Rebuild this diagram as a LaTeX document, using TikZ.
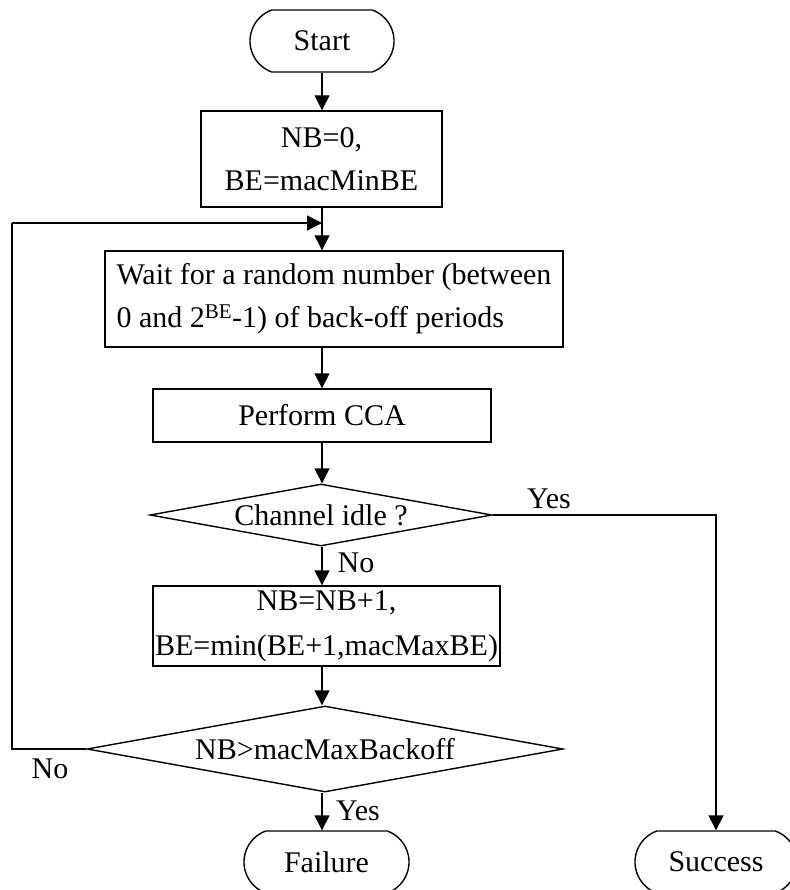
\documentclass[tikz,border=0pt]{standalone}
\usepackage{fontspec}
\setmainfont{Liberation Serif}
\usetikzlibrary{arrows.meta,shapes.geometric,shapes.misc}
\begin{document}
\begin{tikzpicture}[x=1pt,y=-1pt,
  every node/.style={font=\fontsize{30}{43}\selectfont, inner sep=0pt},
  line/.style={line width=1.4pt},
  flow/.style={line, -{Triangle[length=15pt,width=15pt]}},
  proc/.style={draw, line width=1.4pt, rectangle, align=center},
  term/.style={draw, line width=1.4pt, rounded rectangle,
    rounded rectangle arc length=140, minimum height=62pt},
  test/.style={draw, line width=1.4pt, diamond, aspect=5.5},
  lbl/.style={inner sep=0pt}
]
\useasboundingbox (0,0) rectangle (789,890);

% main vertical spine of the flow
\coordinate (spine) at (322,0);

% blocks
\node[term, minimum width=144pt] (start) at (322,41) {Start};
\node[proc, minimum width=241pt, minimum height=96pt] (init) at (321.5,159)
  {NB=0,\\ BE=macMinBE};
\node[proc, minimum width=458pt, minimum height=96pt, align=left] (wait) at (334,299)
  {Wait for a random number (between\\ 0 and 2\textsuperscript{BE}-1) of back-off periods};
\node[proc, minimum width=338pt, minimum height=53pt] (cca) at (322,415.5) {Perform CCA};
\node[test, minimum width=342pt, minimum height=62pt] (idle) at (321,515) {Channel idle ?};
\node[proc, minimum width=347pt, minimum height=80pt,
  font=\fontsize{30}{45}\selectfont] (inc) at (326.5,626)
  {NB=NB+1,\\ BE=min(BE+1,macMaxBE)};
\node[test, minimum width=476pt, minimum height=86pt] (limit) at (325,749) {NB>macMaxBackoff};
\node[term, minimum width=165pt] (fail) at (326.5,862) {Failure};
\node[term, minimum width=162pt] (succ) at (716,862) {Success};

% retry loop corners
\coordinate (loopB) at (12,749);
\coordinate (loopT) at (12,223);
\coordinate (merge) at (spine |- loopT);

% connectors
\draw[flow] (start.south -| spine) -- (init.north -| spine);
\draw[flow] (init.south -| spine) -- (wait.north -| spine);
\draw[flow] (wait.south -| spine) -- (cca.north -| spine);
\draw[flow] (cca.south -| spine) -- (idle.north -| spine);
\draw[flow] (idle.south -| spine) -- (inc.north -| spine);
\draw[flow] (inc.south -| spine) -- (limit.north -| spine);
\draw[flow] (limit.south -| spine) -- (fail.north -| spine);
\draw[line] (limit.west) -- (loopB) -- (loopT);
\draw[flow] (loopT) -- (merge);
\draw[flow] (idle.east) -| (succ.north);

% branch labels
\node[lbl] (yes1) at (549,499) {Yes};
\node[lbl] (no1) at (356,563) {No};
\node[lbl] (no2) at (50,769) {No};
\node[lbl] (yes2) at (358,811) {Yes};
\end{tikzpicture}
\end{document}
